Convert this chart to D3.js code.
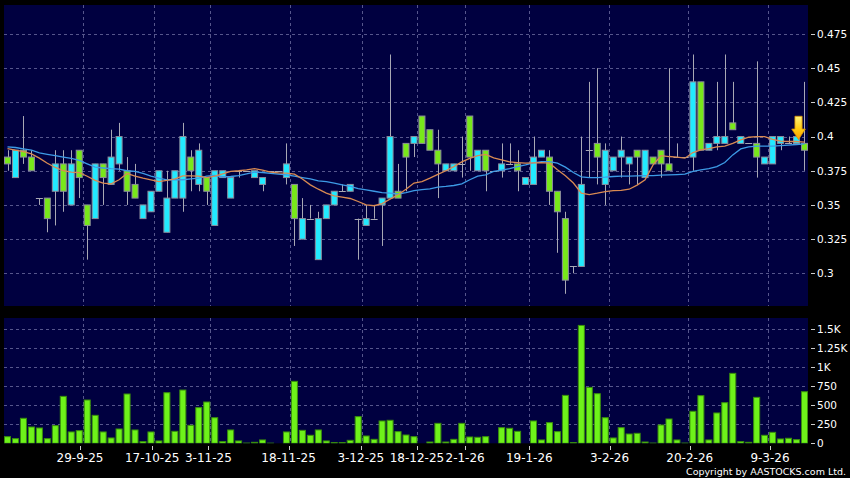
<!DOCTYPE html>
<html><head><meta charset="utf-8">
<script src="https://cdn.jsdelivr.net/npm/d3@7"></script>
<style>html,body{margin:0;padding:0;background:#000;} svg{display:block;}</style>
</head><body><svg id="c" width="850" height="478"></svg>
<script>
// ---- data ----
const opens = [.385,.37,.39,.385,.355,.355,.36,.38,.35,.39, .35,.34,.38,.365,.38,.375,.365,.34,.345,.36,
 .33,.355,.355,.385,.365,.37,.335,.37,.355,.375, .375,.37,.365,.375,.375,.37,.365,.325,.34,.31,
 .34,.35,.36,.36,.34,.335,.34,.35,.355,.36, .395,.395,.415,.405,.39,.375,.375,.38,.415,.375,
 .39,.375,.375,.38,.38,.365,.365,.385,.385,.36, .34,.305,.305,.39,.395,.365,.375,.385,.38,.39,
 .37,.385,.39,.38,.385,.385,.385,.44,.39,.395, .395,.41,.395,.395,.395,.38,.38,.395,.395,.395, .395];
const highs = [.39,.39,.415,.39,.355,.355,.39,.39,.39,.39, .35,.38,.38,.405,.41,.385,.38,.35,.36,.375,
 .375,.375,.41,.39,.395,.37,.375,.375,.37,.375, .375,.375,.37,.375,.375,.395,.365,.355,.35,.345,
 .35,.36,.365,.365,.34,.35,.35,.355,.46,.38, .395,.40,.415,.405,.405,.38,.38,.40,.415,.39,
 .39,.375,.395,.395,.39,.37,.40,.39,.39,.36, .345,.305,.40,.44,.45,.395,.385,.40,.385,.39,
 .39,.385,.39,.45,.395,.385,.46,.44,.395,.44, .46,.44,.40,.395,.455,.385,.40,.40,.40,.40, .44];
const lows = [.375,.37,.38,.375,.35,.33,.335,.345,.35,.355, .31,.34,.35,.365,.375,.35,.355,.34,.345,.36,
 .33,.355,.345,.36,.36,.35,.335,.37,.355,.37, .375,.37,.36,.375,.375,.365,.32,.325,.34,.31,
 .34,.35,.36,.36,.31,.335,.34,.32,.355,.355, .36,.385,.395,.39,.355,.375,.375,.37,.375,.375,
 .36,.375,.37,.38,.36,.365,.365,.385,.35,.315, .285,.30,.305,.37,.365,.35,.375,.37,.365,.365,
 .37,.38,.37,.375,.385,.385,.375,.39,.39,.39, .395,.405,.395,.395,.37,.38,.38,.39,.395,.395, .375];
const closes = [.38,.39,.385,.375,.355,.34,.38,.36,.38,.37, .335,.38,.37,.385,.40,.36,.355,.35,.36,.375,
 .355,.375,.40,.375,.39,.36,.375,.375,.37,.375, .375,.375,.37,.375,.375,.38,.34,.34,.34,.34,
 .35,.36,.36,.365,.34,.34,.34,.355,.40,.355, .385,.40,.395,.39,.38,.38,.38,.38,.385,.39,
 .375,.375,.38,.38,.375,.37,.385,.39,.36,.345, .295,.305,.365,.39,.385,.39,.385,.39,.385,.385,
 .39,.38,.38,.375,.385,.385,.44,.39,.395,.40, .40,.405,.40,.395,.385,.385,.40,.40,.395,.40, .39];
const volumes = [87,61,328,214,201,61,232,616,149,166, 568,367,149,70,188,647,175,22,149,31,
 664,157,699,236,468,542,336,22,175,31, 3,13,44,2,0,149,813,170,105,175,
 31,9,9,39,350,96,52,293,302,153, 109,87,0,17,262,17,52,262,83,79,
 87,0,205,197,157,0,293,44,271,153, 629,9,1547,734,651,336,70,205,122,131,
 17,3,240,319,44,3,420,625,44,398, 533,918,22,13,603,105,144,57,66,48, 677];
const ma10 = [.3912,.390,.389,.3873,.3842,.3805,.3774,.375,.374,.3737, .371,.368,.366,.3654,.3684,.373,.371,.3696,.3684,.367,
 .368,.369,.3713,.3713,.371,.370,.371,.3727,.3745,.375, .3757,.3766,.3755,.374,.3735,.3732,.3725,.369,.3647,.3615,
 .3586,.3567,.3557,.3547,.3525,.350,.3494,.351,.3542,.3574, .3615,.366,.3671,.3696,.3723,.375,.378,.3815,.384,.386,
 .387,.3844,.383,.3815,.381,.3805,.3808,.381,.3805,.3757, .3713,.366,.3586,.3576,.3586,.3598,.3605,.3606,.3615,.3645,
 .3684,.3793,.386,.3854,.385,.3842,.3883,.3903,.3912,.3925, .393,.395,.3976,.3995,.400,.400,.398,.3966,.3964,.3964, .396];
const ma20 = [.3925,.392,.391,.390,.388,.387,.386,.385,.384,.3825, .380,.3776,.377,.3765,.3762,.375,.3745,.373,.371,.3696,
 .3684,.3684,.3684,.369,.3696,.371,.3715,.3706,.3708,.3715, .3727,.374,.3737,.373,.3725,.372,.371,.370,.369,.3676,
 .367,.366,.3647,.3635,.362,.361,.360,.359,.3586,.358, .359,.3605,.3612,.3618,.363,.3635,.3642,.3654,.3684,.371,
 .372,.3745,.3754,.3766,.378,.3793,.3808,.3817,.3817,.3805, .3776,.3737,.3705,.370,.370,.3703,.3708,.371,.371,.3713,
 .3715,.3715,.3718,.372,.3722,.3725,.3745,.3757,.3766,.378, .381,.3866,.391,.3925,.393,.393,.393,.3933,.3937,.3942, .3946];
const dateLabels = ["29-9-25","17-10-25","3-11-25","18-11-25","3-12-25","18-12-25","2-1-26","19-1-26","3-2-26","20-2-26","9-3-26"];
const dateIdx = [9,18,25,35,44,51,57,65,75,85,95];
const priceTicks = [0.3,0.325,0.35,0.375,0.4,0.425,0.45,0.475];
const priceTickLabels = ["0.3","0.325","0.35","0.375","0.4","0.425","0.45","0.475"];
const volTicks = [0,250,500,750,1000,1250,1500];
const volTickLabels = ["0","250","500","750","1K","1.25K","1.5K"];
const markerIdx = 99;

// ---- layout ----
const W=850,H=478;
const P={l:4,r:808,t:5,b:306}, V={t:318,b:443.3};
const FONT='"DejaVu Sans", Verdana, sans-serif';
const n=closes.length;
const svg=d3.select("#c");
const defs=svg.append("defs");
svg.append("rect").attr("width",W).attr("height",H).attr("fill","#000");

const x=d3.scaleBand().domain(d3.range(n)).range([P.l,P.r]).paddingInner(0.12).paddingOuter(0);
const bw=x.bandwidth();
const xt=d3.scaleLinear().domain([dateIdx[0],dateIdx[dateIdx.length-1]]).range([80,770]);
const y=d3.scaleLinear().domain([0.3,0.475]).range([273.3,34]);
const yv=d3.scaleLinear().domain([0,1500]).range([V.b,329]);

defs.append("clipPath").attr("id","cp").append("rect").attr("x",P.l).attr("y",P.t).attr("width",P.r-P.l).attr("height",P.b-P.t);
defs.append("clipPath").attr("id","cv").append("rect").attr("x",P.l).attr("y",V.t).attr("width",P.r-P.l).attr("height",V.b-V.t);
const grad=defs.append("linearGradient").attr("id","ag").attr("x1",0).attr("y1",0).attr("x2",0).attr("y2",1);
grad.append("stop").attr("offset","0%").attr("stop-color","#fff37a");
grad.append("stop").attr("offset","55%").attr("stop-color","#ffcc10");
grad.append("stop").attr("offset","100%").attr("stop-color","#ff9a00");

svg.append("rect").attr("x",P.l).attr("y",P.t).attr("width",P.r-P.l).attr("height",P.b-P.t).attr("fill","#000040");
svg.append("rect").attr("x",P.l).attr("y",V.t).attr("width",P.r-P.l).attr("height",V.b-V.t).attr("fill","#000040");

const GRID="#56568c";
// gridlines
const gp=svg.append("g").attr("clip-path","url(#cp)");
gp.selectAll("line.h").data(priceTicks).join("line")
  .attr("x1",P.l).attr("x2",P.r).attr("y1",d=>Math.round(y(d))+0.5).attr("y2",d=>Math.round(y(d))+0.5)
  .attr("stroke",GRID).attr("stroke-dasharray","3,3");
gp.selectAll("line.v").data(dateIdx).join("line")
  .attr("x1",d=>Math.round(x(d+1))-0.5).attr("x2",d=>Math.round(x(d+1))-0.5).attr("y1",P.t).attr("y2",P.b)
  .attr("stroke",GRID).attr("stroke-dasharray","3,3");
const gv=svg.append("g").attr("clip-path","url(#cv)");
gv.selectAll("line.h").data(volTicks.filter(d=>d>0)).join("line")
  .attr("x1",P.l).attr("x2",P.r).attr("y1",d=>Math.round(yv(d))+0.5).attr("y2",d=>Math.round(yv(d))+0.5)
  .attr("stroke",GRID).attr("stroke-dasharray","3,3");
gv.selectAll("line.v").data(dateIdx).join("line")
  .attr("x1",d=>Math.round(x(d+1))-0.5).attr("x2",d=>Math.round(x(d+1))-0.5).attr("y1",V.t).attr("y2",V.b)
  .attr("stroke",GRID).attr("stroke-dasharray","3,3");

// candles
const UP="#22eaff", DN="#78e81a", EDGE="#8c8c9c", WICK="#a8a8b4";
const idx=d3.range(n);
const gc=svg.append("g").attr("clip-path","url(#cp)");
gc.selectAll("line.w").data(idx).join("line")
  .attr("x1",i=>Math.round(x(i)+bw/2)+0.5).attr("x2",i=>Math.round(x(i)+bw/2)+0.5)
  .attr("y1",i=>y(highs[i])).attr("y2",i=>y(lows[i]))
  .attr("stroke",WICK).attr("stroke-width",1);
gc.selectAll("rect.b").data(idx.filter(i=>opens[i]!==closes[i])).join("rect")
  .attr("x",i=>x(i)+0.5).attr("width",bw-1)
  .attr("y",i=>y(Math.max(opens[i],closes[i])))
  .attr("height",i=>Math.abs(y(opens[i])-y(closes[i])))
  .attr("fill",i=>closes[i]>opens[i]?UP:DN).attr("stroke",EDGE).attr("stroke-width",1);
gc.selectAll("line.d").data(idx.filter(i=>opens[i]===closes[i])).join("line")
  .attr("x1",i=>x(i)).attr("x2",i=>x(i)+bw)
  .attr("y1",i=>Math.round(y(opens[i]))+0.5).attr("y2",i=>Math.round(y(opens[i]))+0.5)
  .attr("stroke",WICK).attr("stroke-width",1);

// moving averages
const ln=d3.line().x((d,i)=>x(i)+bw/2).y(d=>y(d));
gc.append("path").datum(ma20).attr("d",ln).attr("fill","none").attr("stroke","#3d9be6").attr("stroke-width",1.3);
gc.append("path").datum(ma10).attr("d",ln).attr("fill","none").attr("stroke","#d98a52").attr("stroke-width",1.3);

// marker arrow
const ax=x(markerIdx)+bw/2+2, ay=y(closes[markerIdx])+3;
svg.append("path")
  .attr("d","M-3.6,-23.3L3.6,-23.3L3.6,-10.5L6.8,-10.5L0,0L-6.8,-10.5L-3.6,-10.5Z")
  .attr("transform",`translate(${ax},${ay})`)
  .attr("fill","url(#ag)").attr("stroke","#d89000").attr("stroke-width",0.8);

// volume bars
gv.selectAll("rect.v").data(idx.filter(i=>volumes[i]>0)).join("rect")
  .attr("x",i=>x(i)+0.5).attr("width",bw-1)
  .attr("y",i=>yv(volumes[i])).attr("height",i=>yv(0)-yv(volumes[i]))
  .attr("fill","#6ef21a").attr("stroke","#3a8f0c").attr("stroke-width",1);

// right axes
const ga=svg.append("g").attr("font-family",FONT).attr("fill","#fff");
ga.selectAll("line.pt").data(priceTicks).join("line")
  .attr("x1",811).attr("x2",815).attr("y1",d=>Math.round(y(d))+0.5).attr("y2",d=>Math.round(y(d))+0.5).attr("stroke","#ccc");
ga.selectAll("text.pt").data(priceTicks).join("text")
  .attr("x",817).attr("y",d=>y(d)).attr("dy","0.36em").attr("font-size","10.5px").text((d,i)=>priceTickLabels[i]);
ga.selectAll("line.vt").data(volTicks).join("line")
  .attr("x1",811).attr("x2",815).attr("y1",d=>Math.round(yv(d))+0.5).attr("y2",d=>Math.round(yv(d))+0.5).attr("stroke","#ccc");
ga.selectAll("text.vt").data(volTicks).join("text")
  .attr("x",817).attr("y",d=>yv(d)).attr("dy","0.36em").attr("font-size","10.5px").text((d,i)=>volTickLabels[i]);

// x axis
ga.selectAll("line.xt").data(dateIdx).join("line")
  .attr("x1",d=>Math.round(xt(d))+0.5).attr("x2",d=>Math.round(xt(d))+0.5).attr("y1",446).attr("y2",450).attr("stroke","#ccc");
ga.selectAll("text.xt").data(dateIdx).join("text")
  .attr("x",d=>xt(d)).attr("y",461.5).attr("text-anchor","middle").attr("font-size","12px").text((d,i)=>dateLabels[i]);

ga.append("text").attr("x",846).attr("y",474.5).attr("text-anchor","end").attr("font-size","9.5px")
  .text("Copyright by AASTOCKS.com Ltd.");
</script></body></html>
